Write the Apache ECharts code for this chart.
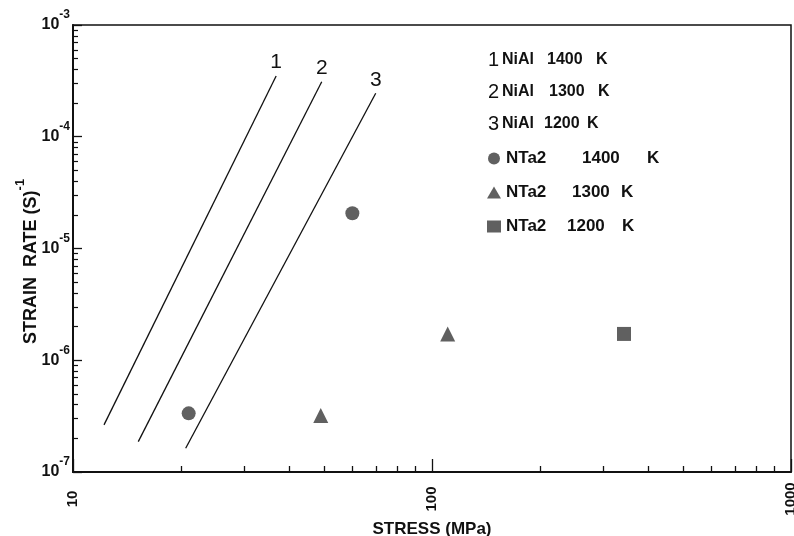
<!DOCTYPE html>
<html><head><meta charset="utf-8">
<script src="https://cdn.jsdelivr.net/npm/echarts@6/dist/echarts.min.js"></script>
<style>html,body{margin:0;padding:0;background:#fff}#c{width:794px;height:536px}</style>
</head><body><div id="c"></div>
<script>
// NiAl fitted lines (stress MPa, strain rate 1/s) at start and end
const lineNames = ['NiAl 1400 K', 'NiAl 1300 K', 'NiAl 1200 K'];
const lineTags = ['1', '2', '3'];
const lineStress = [[12.2, 36.8], [15.2, 49.3], [20.6, 69.7]];
const lineRate = [[2.64e-7, 3.5e-4], [1.87e-7, 3.11e-4], [1.63e-7, 2.45e-4]];
// NTa2 data points
const pointNames = ['NTa2 1400 K', 'NTa2 1300 K', 'NTa2 1200 K'];
const pointSymbols = ['circle', 'triangle', 'rect'];
const pointStress = [[60, 21], [49, 110.6], [342.6]];
const pointRate = [[2.07e-5, 3.35e-7], [3.2e-7, 1.72e-6], [1.72e-6]];
// axis ticks
const xMajorTicks = [10, 100, 1000];
const xMinorTicks = [20, 30, 40, 50, 60, 70, 80, 90, 200, 300, 400, 500, 600, 700, 800, 900];
const yMajorTicks = [1e-7, 1e-6, 1e-5, 1e-4, 1e-3];
const yMinorTicks = [2e-7, 3e-7, 4e-7, 5e-7, 6e-7, 7e-7, 8e-7, 9e-7,
  2e-6, 3e-6, 4e-6, 5e-6, 6e-6, 7e-6, 8e-6, 9e-6,
  2e-5, 3e-5, 4e-5, 5e-5, 6e-5, 7e-5, 8e-5, 9e-5,
  2e-4, 3e-4, 4e-4, 5e-4, 6e-4, 7e-4, 8e-4, 9e-4];

const FONT = 'Liberation Sans, Arial, sans-serif';
const INK = '#111';
const MARK = '#383838';

const series = [];
lineNames.forEach((n, i) => {
  series.push({
    name: n, type: 'line', xAxisIndex: 0, yAxisIndex: 0,
    symbol: 'circle', symbolSize: 0.1, showSymbol: true,
    lineStyle: { color: INK, width: 1.3 }, itemStyle: { color: INK },
    data: [
      [lineStress[i][0], lineRate[i][0]],
      { value: [lineStress[i][1], lineRate[i][1]],
        label: { show: true, position: 'top', distance: 3, formatter: lineTags[i],
          fontFamily: FONT, fontSize: 21, color: INK, fontWeight: 'normal' } }
    ],
    emphasis: { disabled: true }, silent: true
  });
});
pointNames.forEach((n, i) => {
  series.push({
    name: n, type: 'scatter', xAxisIndex: 0, yAxisIndex: 0,
    symbol: pointSymbols[i], symbolSize: pointSymbols[i] === 'triangle' ? 15 : 14,
    itemStyle: { color: MARK },
    data: pointStress[i].map((s, j) => [s, pointRate[i][j]]),
    emphasis: { disabled: true }, silent: true
  });
});

const lineLegendRich = {
  d: { fontFamily: FONT, fontSize: 20, fontWeight: 'normal', color: INK, width: 14, lineHeight: 16 },
  n: { fontFamily: FONT, fontSize: 16, fontWeight: 'bold', color: INK, lineHeight: 16 }
};
const lineLegendWidths = [[45, 49], [47, 49], [42, 43]];
lineLegendWidths.forEach((w, i) => {
  lineLegendRich['a' + i] = { fontFamily: FONT, fontSize: 16, fontWeight: 'bold', color: INK, width: w[0], lineHeight: 16 };
  lineLegendRich['b' + i] = { fontFamily: FONT, fontSize: 16, fontWeight: 'bold', color: INK, width: w[1], lineHeight: 16 };
});
const ptLegendRich = {};
const ptLegendWidths = [[76, 65], [66, 49], [61, 55]];
ptLegendWidths.forEach((w, i) => {
  ptLegendRich['a' + i] = { fontFamily: FONT, fontSize: 17, fontWeight: 'bold', color: INK, width: w[0], lineHeight: 16 };
  ptLegendRich['b' + i] = { fontFamily: FONT, fontSize: 17, fontWeight: 'bold', color: INK, width: w[1], lineHeight: 16 };
});
ptLegendRich.k = { fontFamily: FONT, fontSize: 17, fontWeight: 'bold', color: INK, lineHeight: 16 };

const option = {
  animation: false,
  backgroundColor: '#fff',
  grid: { left: 73, right: 3, top: 25, bottom: 64, show: true, borderColor: INK, borderWidth: 1.5,
    containLabel: false, outerBoundsMode: 'none' },
  legend: [
    {
      data: lineNames.map(n => ({ name: n, icon: 'none' })),
      orient: 'vertical', left: 478, top: 45, itemWidth: 0, itemHeight: 16, itemGap: 12,
      selectedMode: false,
      formatter: name => {
        const i = lineNames.indexOf(name);
        const parts = name.split(' ');
        return '{d|' + lineTags[i] + '}{a' + i + '|' + parts[0] + '}{b' + i + '|' + parts[1] + '}{n|' + parts[2] + '}';
      },
      textStyle: { rich: lineLegendRich }
    },
    {
      data: pointNames.map((n, i) => ({ name: n, icon: pointSymbols[i] })),
      orient: 'vertical', left: 482, top: 145, itemWidth: 14, itemHeight: 12, itemGap: 17,
      selectedMode: false,
      formatter: name => {
        const i = pointNames.indexOf(name);
        const parts = name.split(' ');
        return '{a' + i + '|' + parts[0] + '}{b' + i + '|' + parts[1] + '}{k|' + parts[2] + '}';
      },
      textStyle: { rich: ptLegendRich }
    }
  ],
  xAxis: [
    {
      type: 'log', logBase: 10, min: 10, max: 1000, position: 'bottom',
      name: 'STRESS (MPa)', nameLocation: 'middle', nameGap: 49, nameMoveOverlap: false,
      nameTextStyle: { fontFamily: FONT, fontSize: 17, fontWeight: 'bold', color: INK },
      axisLine: { show: true, lineStyle: { color: INK, width: 2 } },
      axisTick: { show: true, inside: true, length: 13, customValues: xMajorTicks, lineStyle: { color: INK, width: 1.3 } },
      minorTick: { show: false },
      axisLabel: { show: true, customValues: xMajorTicks, rotate: 90, align: 'center', verticalAlign: 'middle', margin: 27,
        fontFamily: FONT, fontSize: 15, fontWeight: 'bold', color: INK, formatter: v => String(Math.round(v)) },
      splitLine: { show: false }
    },
    {
      type: 'log', logBase: 10, min: 10, max: 1000, position: 'bottom',
      axisLine: { show: false },
      axisTick: { show: true, inside: true, length: 6, customValues: xMinorTicks, lineStyle: { color: INK, width: 1.3 } },
      axisLabel: { show: false },
      splitLine: { show: false }
    }
  ],
  yAxis: [
    {
      type: 'log', logBase: 10, min: 1e-7, max: 1e-3, position: 'left',
      name: '{b|STRAIN  RATE (S)}{s|-1}', nameLocation: 'middle', nameGap: 25, nameRotate: 90, nameMoveOverlap: false,
      nameTextStyle: { padding: [0, 26, 0, 0], rich: {
        b: { fontFamily: FONT, fontSize: 18, fontWeight: 'bold', color: INK, padding: [8, 0, 8, 0] },
        s: { fontFamily: FONT, fontSize: 13, fontWeight: 'bold', color: INK, verticalAlign: 'top' }
      } },
      axisLine: { show: true, lineStyle: { color: INK, width: 2 } },
      axisTick: { show: true, inside: true, length: 9, customValues: yMajorTicks, lineStyle: { color: INK, width: 1.3 } },
      axisLabel: { show: true, customValues: yMajorTicks, margin: 3,
        formatter: v => '{b|10}{s|' + Math.round(Math.log10(v)) + '}',
        rich: {
          b: { fontFamily: FONT, fontSize: 16, fontWeight: 'bold', color: INK, padding: [8, 0, 8, 0] },
          s: { fontFamily: FONT, fontSize: 12, fontWeight: 'bold', color: INK, verticalAlign: 'top' }
        } },
      splitLine: { show: false }
    },
    {
      type: 'log', logBase: 10, min: 1e-7, max: 1e-3, position: 'left',
      axisLine: { show: false },
      axisTick: { show: true, inside: true, length: 5, customValues: yMinorTicks, lineStyle: { color: INK, width: 1.2 } },
      axisLabel: { show: false },
      splitLine: { show: false }
    }
  ],
  series: series
};
const chart = echarts.init(document.getElementById('c'), null, { renderer: 'canvas' });
chart.setOption(option);
</script>
</body></html>
